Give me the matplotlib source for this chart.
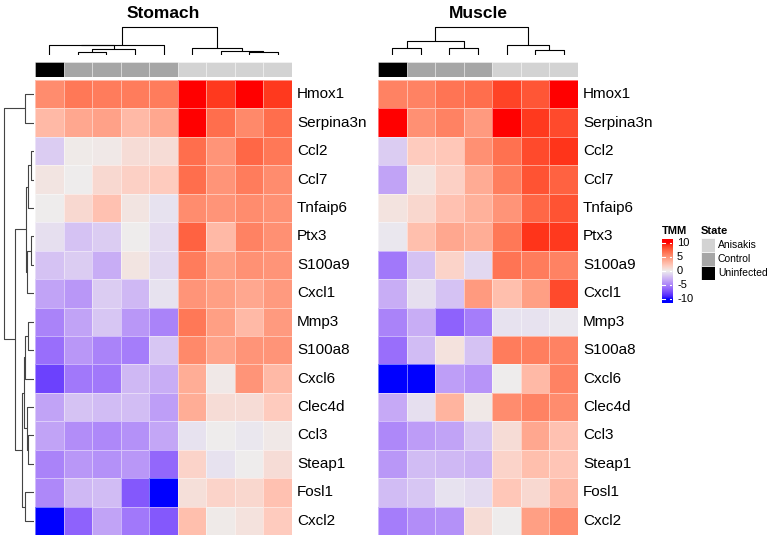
import numpy as np
import matplotlib
matplotlib.use("Agg")
import matplotlib.pyplot as plt
from matplotlib.colors import ListedColormap

plt.rcParams['font.family'] = ['Liberation Sans', 'DejaVu Sans']

# ---- data ----
genes = ["Hmox1", "Serpina3n", "Ccl2", "Ccl7", "Tnfaip6", "Ptx3", "S100a9", "Cxcl1",
         "Mmp3", "S100a8", "Cxcl6", "Clec4d", "Ccl3", "Steap1", "Fosl1", "Cxcl2"]

stomach_state = ["Uninfected", "Control", "Control", "Control", "Control",
                 "Anisakis", "Anisakis", "Anisakis", "Anisakis"]
muscle_state = ["Uninfected", "Control", "Control", "Control",
                "Anisakis", "Anisakis", "Anisakis"]

stomach_tmm = np.array([
    [5.5, 6.5, 6.3, 6.3, 6.3, 10.0, 9.0, 10.0, 9.0],
    [3.0, 4.0, 4.3, 3.0, 4.0, 10.0, 7.0, 5.7, 7.0],
    [-1.5, 0.2, 0.3, 1.0, 1.0, 7.0, 5.0, 7.3, 6.5],
    [0.5, 0.0, 1.2, 1.7, 2.0, 7.0, 5.0, 6.3, 5.5],
    [0.0, 1.2, 2.5, 0.5, -0.5, 5.5, 5.0, 5.5, 5.2],
    [-0.7, -2.0, -1.5, 0.0, -0.8, 7.5, 3.0, 6.0, 5.3],
    [-2.0, -1.5, -3.0, 0.5, -1.0, 6.3, 4.5, 5.2, 5.0],
    [-3.5, -4.0, -1.5, -2.5, -0.5, 5.0, 4.5, 4.0, 4.7],
    [-5.0, -3.5, -1.8, -4.0, -5.0, 6.5, 4.5, 3.0, 4.7],
    [-6.0, -4.0, -5.0, -5.3, -1.8, 5.7, 4.2, 5.0, 5.0],
    [-8.0, -5.5, -5.5, -2.5, -3.0, 3.7, 0.3, 5.0, 3.0],
    [-3.5, -2.0, -2.3, -2.2, -3.7, 3.7, 1.0, 1.0, 2.0],
    [-3.5, -4.5, -4.7, -4.3, -3.3, -0.5, 0.0, -0.3, 0.3],
    [-5.0, -4.0, -4.3, -4.0, -6.3, 1.5, -0.5, 0.0, 1.0],
    [-4.7, -2.5, -2.3, -7.0, -10.0, 0.8, 1.5, 1.3, 2.5],
    [-10.0, -6.5, -3.5, -5.5, -7.0, 2.7, 0.2, 0.7, 2.0],
])

muscle_tmm = np.array([
    [6.0, 6.0, 6.7, 7.0, 8.7, 8.0, 10.0],
    [10.0, 5.3, 6.0, 4.7, 10.0, 9.0, 8.5],
    [-1.5, 2.0, 2.2, 5.3, 6.8, 8.5, 9.2],
    [-3.5, 0.6, 1.7, 3.8, 6.2, 8.2, 7.5],
    [0.6, 1.3, 2.5, 3.5, 5.0, 7.3, 8.2],
    [-0.3, 2.7, 4.0, 3.7, 6.5, 9.2, 9.0],
    [-5.5, -2.0, 1.5, -1.0, 6.7, 6.3, 6.0],
    [-3.0, -0.7, -2.0, 4.7, 2.7, 4.5, 8.5],
    [-5.0, -3.0, -6.5, -5.3, -0.5, -0.5, -0.3],
    [-6.0, -2.3, 0.7, -2.0, 6.3, 6.2, 6.0],
    [-10.0, -10.0, -3.7, -4.2, 0.0, 3.0, 6.0],
    [-3.2, -0.7, 3.3, 0.3, 5.5, 6.0, 5.5],
    [-4.7, -3.8, -3.5, -1.8, 1.0, 4.0, 2.5],
    [-4.0, -2.3, -2.5, -2.7, 1.5, 2.7, 2.3],
    [-2.3, -1.8, -0.5, -0.8, 2.2, 1.2, 3.0],
    [-5.3, -4.5, -4.3, 1.0, 0.0, 4.5, 5.5],
])

# dendrograms as (height, left, right); ints are leaf indices
row_tree = (30.5, (9, 0, 1),
            (19, (8.5, (5.7, (3, 2, 3), 4), (7, (3, 5, 6), 7)),
             (12, (10, (9, (6.5, 8, 9), 10), (6.7, 11, (5.7, 12, 13))), (9, 14, 15))))
stomach_tree = (28, (10.5, (10, 0, (5.7, (3.3, 1, 2), 3)), 4),
                (6.7, 5, (4.3, 6, (3.3, 7, 8))))
muscle_tree = (28.3, (14, (7.3, 0, 1), (7.3, 2, 3)), (10, 4, (5, 5, 6)))

state_levels = ["Anisakis", "Control", "Uninfected"]
state_colors = {"Anisakis": "#D3D3D3", "Control": "#A6A6A6", "Uninfected": "#000000"}


# ---- colour ramp blue-white-red interpolated in LAB (like colorRamp2) ----
def srgb_to_lab(rgb):
    c = np.asarray(rgb, float)
    lin = np.where(c <= 0.04045, c / 12.92, ((c + 0.055) / 1.055) ** 2.4)
    M = np.array([[0.4124, 0.3576, 0.1805], [0.2126, 0.7152, 0.0722], [0.0193, 0.1192, 0.9505]])
    xyz = M @ lin / np.array([0.95047, 1.0, 1.08883])
    f = np.where(xyz > 0.008856, np.cbrt(xyz), 7.787 * xyz + 16 / 116)
    return np.array([116 * f[1] - 16, 500 * (f[0] - f[1]), 200 * (f[1] - f[2])])


def lab_to_srgb(lab):
    L, a, b = lab
    fy = (L + 16) / 116
    fx = fy + a / 500
    fz = fy - b / 200
    f = np.array([fx, fy, fz])
    xyz = np.where(f ** 3 > 0.008856, f ** 3, (f - 16 / 116) / 7.787) * np.array([0.95047, 1.0, 1.08883])
    Minv = np.array([[3.2406, -1.5372, -0.4986], [-0.9689, 1.8758, 0.0415], [0.0557, -0.2040, 1.0570]])
    lin = np.clip(Minv @ xyz, 0, 1)
    c = np.where(lin <= 0.0031308, 12.92 * lin, 1.055 * lin ** (1 / 2.4) - 0.055)
    return np.clip(c, 0, 1)


lab_blue = srgb_to_lab([0, 0, 1])
lab_mid = srgb_to_lab([0.93, 0.93, 0.93])
lab_red = srgb_to_lab([1, 0, 0])
cols = []
for t in np.linspace(-1, 1, 256):
    if t < 0:
        lab = lab_mid + (lab_blue - lab_mid) * (-t)
    else:
        lab = lab_mid + (lab_red - lab_mid) * t
    cols.append(lab_to_srgb(lab))
cmap = ListedColormap(cols)

# ---- figure ----
W, H = 772, 540
fig = plt.figure(figsize=(W / 100, H / 100), dpi=100)


def add_ax(x0, y0, x1, y1):
    ax = fig.add_axes([x0 / W, 1 - y1 / H, (x1 - x0) / W, (y1 - y0) / H])
    ax.axis('off')
    return ax


def draw_tree(ax, node, horizontal, lw=0.8, color='black'):
    # returns (position of node, height)
    if isinstance(node, int):
        return node + 0.5, 0.0
    h, left, right = node
    p1, h1 = draw_tree(ax, left, horizontal, lw, color)
    p2, h2 = draw_tree(ax, right, horizontal, lw, color)
    if horizontal:
        ax.plot([h1, h, h, h2], [p1, p1, p2, p2], color=color, lw=lw, solid_capstyle='butt')
    else:
        ax.plot([p1, p1, p2, p2], [h1, h, h, h2], color=color, lw=lw, solid_capstyle='butt')
    return (p1 + p2) / 2, h


y_top, y_bot = 80, 535
panels = [("Stomach", stomach_tmm, stomach_state, stomach_tree, 35, 292),
          ("Muscle", muscle_tmm, muscle_state, muscle_tree, 378, 578)]

for title, mat, states, tree, x0, x1 in panels:
    ncol = mat.shape[1]
    cell_w = (x1 - x0) / ncol

    ax = add_ax(x0, y_top, x1, y_bot)
    ax.pcolormesh(mat, cmap=cmap, vmin=-10, vmax=10, edgecolors=(1, 1, 1, 0.45), linewidth=0.6)
    ax.set_xlim(0, ncol)
    ax.set_ylim(len(genes), 0)
    for i, g in enumerate(genes):
        ax.text(ncol + 5 / cell_w, i + 0.5, g, ha='left', va='center', fontsize=11)

    # state annotation
    axa = add_ax(x0, 62, x1, 77)
    for j, s in enumerate(states):
        axa.add_patch(plt.Rectangle((j, 0), 1, 1, facecolor=state_colors[s],
                                    edgecolor=(1, 1, 1, 0.5), linewidth=0.5))
    axa.set_xlim(0, ncol)
    axa.set_ylim(0, 1)

    # column dendrogram
    axd = add_ax(x0, 26, x1, 55)
    draw_tree(axd, tree, horizontal=False)
    axd.set_xlim(0, ncol)
    axd.set_ylim(0, 29)

    fig.text((x0 + x1) / 2 / W, 1 - 13 / H, title, ha='center', va='center',
             fontsize=12.5, fontweight='bold')

# row dendrogram
axr = add_ax(2, y_top, 34, y_bot)
draw_tree(axr, row_tree, horizontal=True, color='#444444')
axr.set_xlim(32, 0)
axr.set_ylim(len(genes), 0)

# ---- legends ----
fig.text(662 / W, 1 - 231 / H, "TMM", fontsize=8, fontweight='bold', ha='left', va='center')
axc = add_ax(662, 239, 672, 303)
grad = np.linspace(11.43, -11.43, 200).reshape(-1, 1)
axc.imshow(grad, cmap=cmap, vmin=-10, vmax=10, aspect='auto',
           extent=[0, 1, -11.43, 11.43], origin='upper')
axc.set_xlim(0, 1)
axc.set_ylim(-11.43, 11.43)
for v in [10, 5, 0, -5, -10]:
    axc.plot([0, 0.25], [v, v], color='white', lw=0.8)
    axc.plot([0.75, 1], [v, v], color='white', lw=0.8)
    axc.text(1.5, v, str(v), fontsize=8, ha='left', va='center', clip_on=False)

fig.text(701 / W, 1 - 231 / H, "State", fontsize=8, fontweight='bold', ha='left', va='center')
for k, s in enumerate(state_levels):
    ytop = 238 + k * 14
    axs = add_ax(701, ytop, 715, ytop + 14)
    axs.add_patch(plt.Rectangle((0, 0), 1, 1, facecolor=state_colors[s], edgecolor='white', linewidth=0.5))
    axs.set_xlim(0, 1)
    axs.set_ylim(0, 1)
    fig.text(718 / W, 1 - (ytop + 7) / H, s, fontsize=7.5, ha='left', va='center')

fig.savefig("out.png", dpi=100)
